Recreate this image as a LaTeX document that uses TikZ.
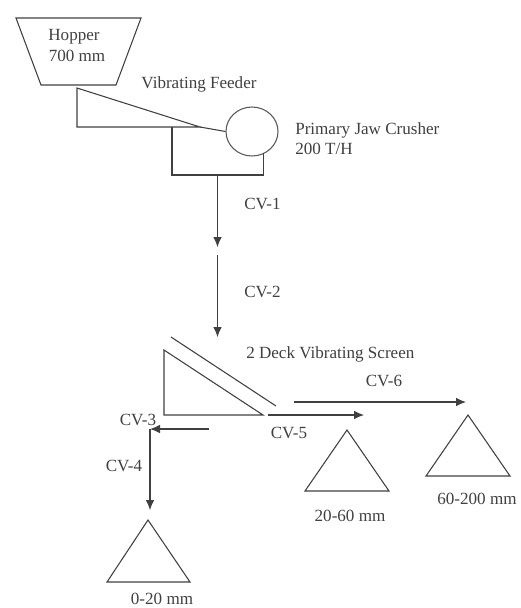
\documentclass[tikz,border=0pt]{standalone}
\usepackage{fontspec}
\setmainfont{Liberation Serif}
\usetikzlibrary{shapes.geometric,arrows.meta}
\begin{document}
\begin{tikzpicture}[x=0.75pt,y=-0.75pt,
  line/.style={draw=black!75,line width=0.8pt},
  flow/.style={line,-{Latex[length=7.5pt,width=6.5pt]}},
  lbl/.style={inner sep=0pt,text=black!75,font=\fontsize{12.8pt}{15pt}\selectfont},
  crusher/.style={draw=black!65,line width=0.8pt,ellipse,minimum width=39pt,minimum height=36.75pt,inner sep=0pt}]
\useasboundingbox (0,0) rectangle (521,608);
% hopper
\coordinate (h1) at (16,18); \coordinate (h2) at (141,18);
\coordinate (h3) at (116,85); \coordinate (h4) at (41,85);
\draw[line] (h1) -- (h2) -- (h3) -- (h4) -- cycle;
\node[lbl] (hoppertext) at (74,37) {Hopper};
\node[lbl] (hoppersize) at (77,56) {700 mm};
% feeder
\coordinate (f1) at (77,88); \coordinate (f2) at (77,127); \coordinate (f3) at (200,127);
\draw[line] (f1) -- (f2) -- (f3) -- cycle;
\node[lbl] (feedertext) at (199,84) {Vibrating Feeder};
% crusher
\node[crusher] (jaw) at (252,131.5) {};
\coordinate (b1) at (172,127); \coordinate (b2) at (172,175);
\coordinate (b3) at (263.5,175); \coordinate (b4) at (263.5,153);
\draw[line] (f3) -- (jaw.west);
\draw[line] (b1) -- (b2) -- (b3) -- (b4);
\node[lbl,anchor=west] (jawtext) at (295,130) {Primary Jaw Crusher};
\node[lbl,anchor=west] (jawrate) at (295,149) {200 T/H};
% conveyors 1, 2
\coordinate (c1a) at (217.5,175); \coordinate (c1b) at (217.5,247);
\coordinate (c2a) at (217.5,255); \coordinate (c2b) at (217.5,337);
\draw[flow] (c1a) -- (c1b);
\draw[flow] (c2a) -- (c2b);
\node[lbl,anchor=west] (cv1) at (244,204) {CV-1};
\node[lbl,anchor=west] (cv2) at (244,292) {CV-2};
% screen
\coordinate (s1) at (164,350); \coordinate (s2) at (164,415); \coordinate (s3) at (263,415);
\coordinate (u1) at (171,337); \coordinate (u2) at (276,406);
\draw[line] (s1) -- (s2) -- (s3) -- cycle;
\draw[line] (u1) -- (u2);
\node[lbl,anchor=west] (screentext) at (246,354.5) {2 Deck Vibrating Screen};
% outlets
\coordinate (c5a) at (268,415); \coordinate (c5b) at (364,415);
\coordinate (c6a) at (294,402); \coordinate (c6b) at (466,402);
\coordinate (c3a) at (209,429); \coordinate (c3b) at (150,429);
\coordinate (c4b) at (150,510);
\draw[flow] (c5a) -- (c5b);
\draw[flow] (c6a) -- (c6b);
\draw[flow] (c3a) -- (c3b);
\draw[flow] (c3b) -- (c4b);
\node[lbl] (cv3) at (138,420) {CV-3};
\node[lbl] (cv4) at (124,466) {CV-4};
\node[lbl] (cv5) at (289,433) {CV-5};
\node[lbl] (cv6) at (384,381) {CV-6};
% piles
\coordinate (p1a) at (347,430); \coordinate (p1b) at (389,491); \coordinate (p1c) at (305,491);
\draw[line] (p1a) -- (p1b) -- (p1c) -- cycle;
\coordinate (p2a) at (468,415); \coordinate (p2b) at (510,476); \coordinate (p2c) at (426,476);
\draw[line] (p2a) -- (p2b) -- (p2c) -- cycle;
\coordinate (p3a) at (148,520); \coordinate (p3b) at (190,582); \coordinate (p3c) at (107,582);
\draw[line] (p3a) -- (p3b) -- (p3c) -- cycle;
\node[lbl] (p1t) at (350,516) {20-60 mm};
\node[lbl] (p2t) at (477,499) {60-200 mm};
\node[lbl] (p3t) at (162,599) {0-20 mm};
\end{tikzpicture}
\end{document}
